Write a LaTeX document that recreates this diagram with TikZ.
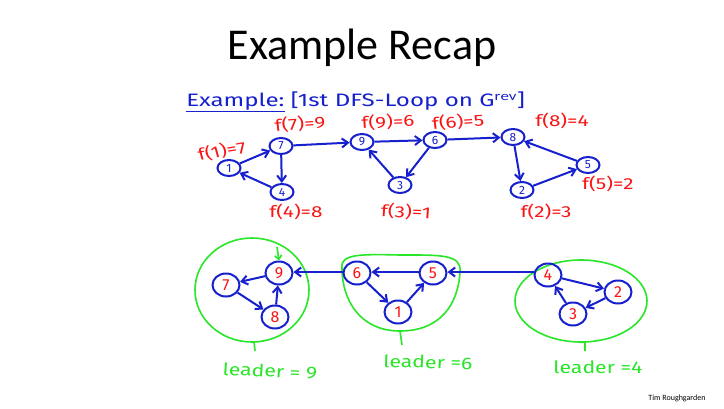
\documentclass[tikz,border=0pt]{standalone}
\usepackage{fontspec}
\setmainfont{Carlito}
\newfontfamily\hand{Fira Sans}
\usetikzlibrary{shapes.geometric,arrows.meta}
\definecolor{pen}{RGB}{22,32,205}
\definecolor{ink}{RGB}{250,20,20}
\definecolor{marker}{RGB}{40,230,40}
\tikzset{
  vtx/.style={ellipse,draw=pen,line width=2pt,inner sep=0pt,minimum width=23pt,minimum height=16pt,text=pen,font=\hand\fontsize{12}{12}\selectfont},
  bvtx/.style={ellipse,draw=pen,line width=2pt,inner sep=0pt,minimum width=27pt,minimum height=23pt,text=ink,font=\hand\fontsize{16}{16}\selectfont},
  arc/.style={draw=pen,line width=2pt,-{Straight Barb[length=6pt,width=9pt,line width=2pt]}},
  flab/.style={text=ink,font=\hand\fontsize{16}{16}\selectfont,inner sep=0pt,xscale=1.3},
  leadlab/.style={text=marker,font=\hand\fontsize{17}{17}\selectfont,inner sep=0pt,xscale=1.25},
  group/.style={draw=marker,line width=1.6pt},
}
\begin{document}
\begin{tikzpicture}[x=1pt,y=-1pt]
\useasboundingbox (0,0) rectangle (724,408);
\fill[white] (0,0) rectangle (724,408);

% title and heading
\node (title) at (362,48) {\fontsize{44}{44}\selectfont Example Recap};
\node[text=pen,font=\hand\fontsize{18}{18}\selectfont,anchor=west,inner sep=0pt,xscale=1.34] (head) at (186,102)
  {\underline{Example:}\ [1st DFS-Loop on G$^{\mathrm{rev}}$]};

% first pass: vertices
\node[vtx] (a1) at (229,168) {1};
\node[vtx] (a7) at (281,146) {7};
\node[vtx] (a4) at (282,192) {4};
\node[vtx] (a9) at (362,142) {9};
\node[vtx] (a6) at (435,140) {6};
\node[vtx] (a3) at (400,185) {3};
\node[vtx] (a8) at (513,137) {8};
\node[vtx] (a2) at (522,190) {2};
\node[vtx] (a5) at (588,165) {5};

\draw[arc] (a1) -- (a7);
\draw[arc] (a7) -- (a4);
\draw[arc] (a4) -- (a1);
\draw[arc] (a7) -- (a9);
\draw[arc] (a9) -- (a6);
\draw[arc] (a6) -- (a3);
\draw[arc] (a3) -- (a9);
\draw[arc] (a6) -- (a8);
\draw[arc] (a8) -- (a2);
\draw[arc] (a2) -- (a5);
\draw[arc] (a5) -- (a8);

% finishing times
\node[flab,rotate=12] (fa1) at (222,151) {f(1)=7};
\node[flab,rotate=5] (fa7) at (300,124) {f(7)=9};
\node[flab] (fa4) at (296,212) {f(4)=8};
\node[flab,rotate=3] (fa9) at (388,122) {f(9)=6};
\node[flab,rotate=5] (fa6) at (458,122) {f(6)=5};
\node[flab,rotate=-3] (fa3) at (406,212) {f(3)=1};
\node[flab] (fa8) at (562,121) {f(8)=4};
\node[flab] (fa5) at (608,184) {f(5)=2};
\node[flab] (fa2) at (546,212) {f(2)=3};

% second pass: components
\draw[group] (252,290) ellipse (57pt and 52pt);
\draw[group] (342,268) .. controls (340,254) and (360,254) .. (400,255)
  .. controls (440,255) and (462,254) .. (460,272)
  .. controls (458,305) and (440,331) .. (400,331)
  .. controls (360,331) and (342,300) .. (342,268) -- cycle;
\draw[group] (581,301) ellipse (66pt and 41pt);

\coordinate (t1) at (254,342);
\coordinate (t1e) at (255,351);
\coordinate (t2) at (400,331);
\coordinate (t2e) at (402,345);
\coordinate (t3) at (585,342);
\coordinate (t3e) at (585,351);
\draw[group] (t1) -- (t1e);
\draw[group] (t2) -- (t2e);
\draw[group] (t3) -- (t3e);

\node[bvtx] (b9) at (279,273) {9};
\node[bvtx] (b7) at (226,285) {7};
\node[bvtx] (b8) at (275,317) {8};
\node[bvtx] (b6) at (357,273) {6};
\node[bvtx] (b5) at (433,273) {5};
\node[bvtx] (b1) at (398,312) {1};
\node[bvtx] (b4) at (548,275) {4};
\node[bvtx] (b2) at (618,292) {2};
\node[bvtx] (b3) at (573,314) {3};

\draw[arc] (b9) -- (b7);
\draw[arc] (b7) -- (b8);
\draw[arc] (b8) -- (b9);
\draw[arc] (b6) -- (b1);
\draw[arc] (b1) -- (b5);
\draw[arc] (b4) -- (b2);
\draw[arc] (b2) -- (b3);
\draw[arc] (b3) -- (b4);
\draw[arc] (b5.west |- 0,272) -- (b6.east |- 0,272);
\draw[arc] (b6.west |- 0,272) -- (b9.east |- 0,272);
\draw[arc] (b4.west |- 0,272) -- (b5.east |- 0,272);

\coordinate (g1) at (277,247);
\draw[draw=marker,line width=1.6pt,-{Straight Barb[length=4pt,width=7pt,line width=1.6pt]}] (g1) -- (b9.north);

\node[leadlab,rotate=-3] (l9) at (270,371) {leader = 9};
\node[leadlab,rotate=-2] (l6) at (428,362) {leader =6};
\node[leadlab] (l4) at (598,367) {leader =4};

\node[font=\fontsize{8}{8}\selectfont,inner sep=0pt] (author) at (677,398) {Tim Roughgarden};
\end{tikzpicture}
\end{document}
